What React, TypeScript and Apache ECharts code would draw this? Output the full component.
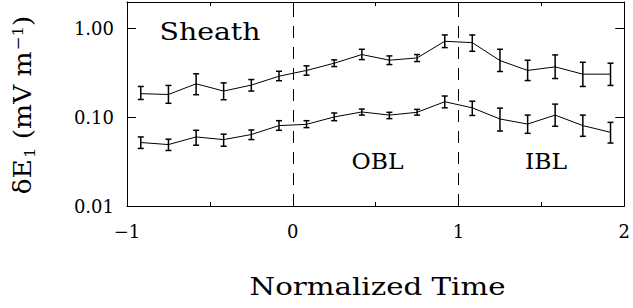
import React, { useEffect, useRef } from "react";
import * as echarts from "echarts";

const xs = [-0.917, -0.75, -0.583, -0.417, -0.25, -0.083, 0.083, 0.25, 0.417, 0.583, 0.75, 0.917, 1.083, 1.25, 1.417, 1.583, 1.75, 1.917];

const sheathUpper = [0.185, 0.181, 0.239, 0.198, 0.231, 0.291, 0.338, 0.408, 0.511, 0.441, 0.468, 0.721, 0.696, 0.437, 0.338, 0.371, 0.307, 0.307];
const sheathUpperLow = [0.159, 0.144, 0.18, 0.158, 0.198, 0.259, 0.299, 0.374, 0.448, 0.394, 0.426, 0.612, 0.556, 0.329, 0.26, 0.274, 0.223, 0.229];
const sheathUpperHigh = [0.223, 0.229, 0.31, 0.245, 0.267, 0.331, 0.381, 0.445, 0.586, 0.493, 0.511, 0.85, 0.85, 0.586, 0.441, 0.506, 0.418, 0.408];

const lowerSeries = [0.052, 0.0493, 0.0601, 0.0561, 0.064, 0.0807, 0.0834, 0.101, 0.115, 0.106, 0.114, 0.15, 0.128, 0.0958, 0.084, 0.106, 0.0807, 0.0678];
const lowerSeriesLow = [0.0446, 0.0423, 0.0485, 0.0472, 0.0561, 0.0714, 0.0766, 0.0917, 0.106, 0.0967, 0.106, 0.128, 0.105, 0.0701, 0.066, 0.0793, 0.0611, 0.0513];
const lowerSeriesHigh = [0.0601, 0.0567, 0.0714, 0.0646, 0.072, 0.0917, 0.0917, 0.112, 0.124, 0.114, 0.123, 0.174, 0.152, 0.127, 0.106, 0.141, 0.106, 0.0878];

const yTicks = [0.01, 0.1, 1];
const boundaries = [0, 1];

const FONT = "DejaVu Serif";

export default function App() {
  const ref = useRef<HTMLDivElement>(null);
  useEffect(() => {
    if (!ref.current) return;
    const chart = echarts.init(ref.current, null, { renderer: "svg" });

    const errRender = (params: any, api: any) => {
      const x = api.value(0);
      const p1 = api.coord([x, api.value(1)]);
      const p2 = api.coord([x, api.value(2)]);
      const w = 3;
      const style = { stroke: "#000", lineWidth: 1.5 };
      return {
        type: "group",
        children: [
          { type: "line", shape: { x1: p1[0], y1: p1[1], x2: p2[0], y2: p2[1] }, style },
          { type: "line", shape: { x1: p1[0] - w, y1: p1[1], x2: p1[0] + w, y2: p1[1] }, style },
          { type: "line", shape: { x1: p2[0] - w, y1: p2[1], x2: p2[0] + w, y2: p2[1] }, style },
        ],
      };
    };

    const axisLine = { show: true, onZero: false, lineStyle: { color: "#000", width: 1 } };

    chart.setOption({
      animation: false,
      backgroundColor: "#fff",
      grid: { left: 127, right: 7, top: 2, bottom: 102, containLabel: false },
      xAxis: [
        {
          type: "value",
          min: -1,
          max: 2,
          interval: 1,
          position: "bottom",
          axisLine,
          splitLine: { show: false },
          axisTick: { show: true, inside: true, length: 9, lineStyle: { color: "#000" } },
          minorTick: { show: true, splitNumber: 2, length: 4, lineStyle: { color: "#000" } },
          axisLabel: {
            margin: 16,
            color: "#000",
            fontSize: 18,
            fontFamily: FONT,
            formatter: (v: number) => String(v).replace("-", "\u2212"),
          },
        },
        {
          type: "value",
          min: -1,
          max: 2,
          interval: 1,
          position: "top",
          axisLine,
          splitLine: { show: false },
          axisTick: { show: true, inside: true, length: 9, lineStyle: { color: "#000" } },
          minorTick: { show: true, splitNumber: 2, length: 4, lineStyle: { color: "#000" } },
          axisLabel: { show: false },
        },
      ],
      yAxis: [
        {
          type: "log",
          logBase: 10,
          min: 0.01,
          max: 2,
          position: "left",
          axisLine,
          splitLine: { show: false },
          axisTick: { show: true, inside: true, length: 9, customValues: yTicks, lineStyle: { color: "#000" } },
          axisLabel: {
            margin: 13,
            color: "#000",
            fontSize: 18,
            fontFamily: FONT,
            customValues: yTicks,
            formatter: (v: number) => v.toFixed(2),
          },
        },
        {
          type: "log",
          logBase: 10,
          min: 0.01,
          max: 2,
          position: "right",
          axisLine,
          splitLine: { show: false },
          axisTick: { show: true, inside: true, length: 9, customValues: yTicks, lineStyle: { color: "#000" } },
          axisLabel: { show: false },
        },
      ],
      series: [
        {
          type: "line",
          data: xs.map((x, i) => [x, sheathUpper[i]]),
          showSymbol: false,
          symbol: "none",
          lineStyle: { color: "#000", width: 1 },
          markLine: {
            silent: true,
            symbol: "none",
            label: { show: false },
            lineStyle: { color: "#000", width: 1, type: [12, 9] },
            data: boundaries.map((b) => ({ xAxis: b })),
          },
        },
        {
          type: "line",
          data: xs.map((x, i) => [x, lowerSeries[i]]),
          showSymbol: false,
          symbol: "none",
          lineStyle: { color: "#000", width: 1 },
        },
        {
          type: "custom",
          renderItem: errRender,
          data: xs.map((x, i) => [x, sheathUpperLow[i], sheathUpperHigh[i]]),
          encode: { x: 0, y: [1, 2] },
        },
        {
          type: "custom",
          renderItem: errRender,
          data: xs.map((x, i) => [x, lowerSeriesLow[i], lowerSeriesHigh[i]]),
          encode: { x: 0, y: [1, 2] },
        },
      ],
      graphic: [
        {
          type: "text",
          x: 210,
          y: 32,
          scaleX: 1.18,
          style: { text: "Sheath", fontSize: 24, fontFamily: FONT, fill: "#000", textAlign: "center", textVerticalAlign: "middle" },
        },
        {
          type: "text",
          x: 377.5,
          y: 161,
          scaleX: 1.02,
          style: { text: "OBL", fontSize: 23, fontFamily: FONT, fill: "#000", textAlign: "center", textVerticalAlign: "middle" },
        },
        {
          type: "text",
          x: 546,
          y: 161,
          scaleX: 1.02,
          style: { text: "IBL", fontSize: 23, fontFamily: FONT, fill: "#000", textAlign: "center", textVerticalAlign: "middle" },
        },
        {
          type: "text",
          x: 377.5,
          y: 286,
          scaleX: 1.22,
          style: { text: "Normalized Time", fontSize: 24, fontFamily: FONT, fill: "#000", textAlign: "center", textVerticalAlign: "middle" },
        },
        {
          type: "text",
          x: 23,
          y: 105,
          rotation: Math.PI / 2,
          scaleX: 1.1,
          style: {
            text: "{n|\u03B4E}{sub|1}{n| (mV m}{sup|\u22121}{n|)}",
            fill: "#000",
            textAlign: "center",
            textVerticalAlign: "middle",
            rich: {
              n: { fontSize: 24, fontFamily: FONT, lineHeight: 36, fill: "#000" },
              sub: { fontSize: 15, fontFamily: FONT, lineHeight: 36, verticalAlign: "bottom", padding: [0, 0, 4, 1], fill: "#000" },
              sup: { fontSize: 15, fontFamily: FONT, lineHeight: 36, verticalAlign: "top", padding: [5, 0, 0, 1], fill: "#000" },
            },
          },
        },
      ],
    });
    return () => chart.dispose();
  }, []);
  return <div ref={ref} style={{ position: "fixed", left: 0, top: 0, width: 633, height: 308 }} />;
}
